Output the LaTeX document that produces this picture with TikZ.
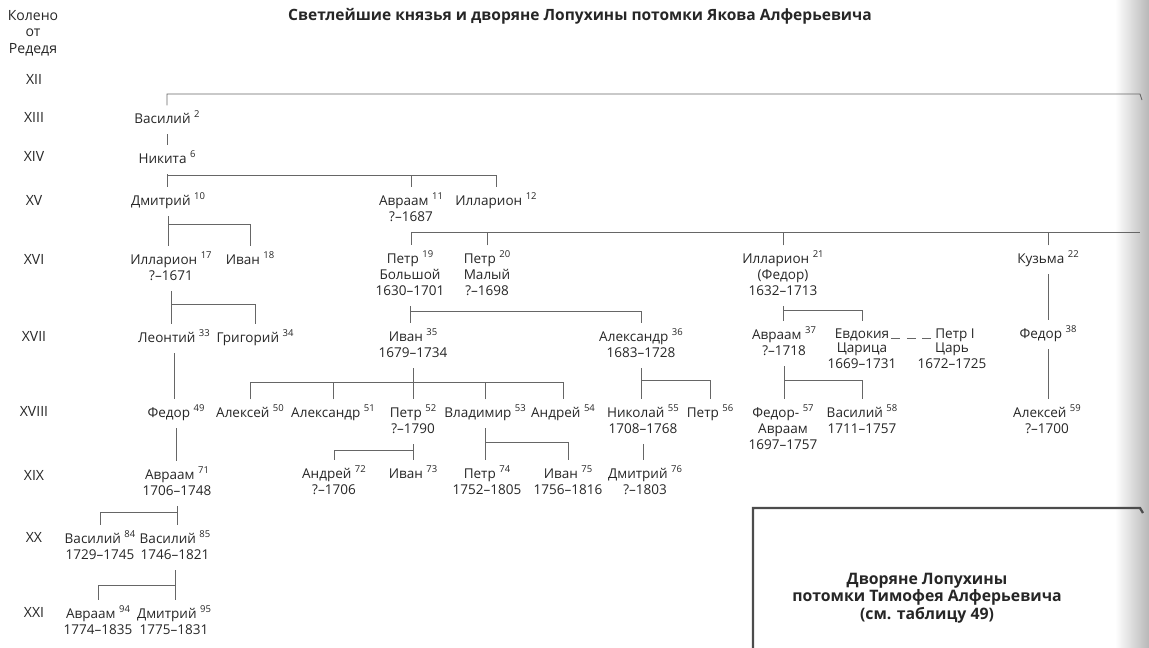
\documentclass[tikz,border=0pt]{standalone}
\usepackage{fontspec}
\setmainfont{Open Sans}
\usepackage{tikz}
\newcommand\idx[1]{\hspace{2pt}\raisebox{3.3pt}{\fontsize{5.4}{6}\selectfont #1}}

\begin{document}
\begin{tikzpicture}[%
  x=0.02cm, y=-0.02cm,
  every node/.style={text=black!85, font=\fontsize{7.7}{9.1}\selectfont},
  person/.style={anchor=north, yshift=6.62pt, inner xsep=1pt, inner ysep=3pt, align=center,
    execute at begin node=\strut, execute at end node=\strut},
  gen/.style={font=\fontsize{8}{9.4}\selectfont, align=center},
  kin/.style={draw=black!60, line width=0.5pt}]
  \useasboundingbox (0,0) rectangle (1149,648);
  \shade[left color=white, right color=black!28] (1115,0) rectangle (1149,648);

  \node (title) at (580,16) {\bfseries\fontsize{8.85}{10}\selectfont Светлейшие князья и дворяне Лопухины потомки Якова Алферьевича};

  \node[gen] (kol) at (33,33) {Колено\\от\\Редедя};
  \node[gen] (g12) at (34,79) {XII};
  \node[gen] (g13) at (34,117) {XIII};
  \node[gen] (g14) at (34,156) {XIV};
  \node[gen] (g15) at (34,200) {XV};
  \node[gen] (g16) at (34,259) {XVI};
  \node[gen] (g17) at (34,336) {XVII};
  \node[gen] (g18) at (34,411) {XVIII};
  \node[gen] (g19) at (34,475) {XIX};
  \node[gen] (g20) at (34,537) {XX};
  \node[gen] (g21) at (34,612) {XXI};

  \node[person] (n2) at (167,117) {Василий\idx{2}};
  \node[person] (n6) at (167,157) {Никита\idx{6}};
  \node[person] (n10) at (168,199) {Дмитрий\idx{10}};
  \node[person] (n11) at (411,199) {Авраам\idx{11}\\?–1687};
  \node[person] (n12) at (496,199) {Илларион\idx{12}};

  \node[person] (n17) at (171,258) {Илларион\idx{17}\\?–1671};
  \node[person] (n18) at (250,258) {Иван\idx{18}};
  \node[person] (n19) at (410,257) {Петр\idx{19}\\Большой\\1630–1701};
  \node[person] (n20) at (487,257) {Петр\idx{20}\\Малый\\?–1698};
  \node[person] (n21) at (783,257) {Илларион\idx{21}\\(Федор)\\1632–1713};
  \node[person] (n22) at (1048,257) {Кузьма\idx{22}};

  \node[person] (n33) at (174,336) {Леонтий\idx{33}};
  \node[person] (n34) at (255,336) {Григорий\idx{34}};
  \node[person] (n35) at (413,335) {Иван\idx{35}\\1679–1734};
  \node[person] (n36) at (641,335) {Александр\idx{36}\\1683–1728};
  \node[person] (n37) at (784,333) {Авраам\idx{37}\\?–1718};
  \node[person] (ne) at (862,333) {Евдокия};
  \node[person] (ned) at (862,349) {Царица\\1669–1731};
  \node[person] (np1) at (955,333) {Петр I};
  \node[person] (np1d) at (952,349) {Царь\\1672–1725};
  \node[person] (n38) at (1048,332) {Федор\idx{38}};

  \node[person] (n49) at (176,411) {Федор\idx{49}};
  \node[person] (n50) at (250,411) {Алексей\idx{50}};
  \node[person] (n51) at (333,411) {Александр\idx{51}};
  \node[person] (n52) at (413,411) {Петр\idx{52}\\?–1790};
  \node[person] (n53) at (485,411) {Владимир\idx{53}};
  \node[person] (n54) at (563,411) {Андрей\idx{54}};
  \node[person] (n55) at (643,411) {Николай\idx{55}\\1708–1768};
  \node[person] (n56) at (710,411) {Петр\idx{56}};
  \node[person] (n57) at (783,411) {Федор-\idx{57}\\Авраам\\1697–1757};
  \node[person] (n58) at (862,411) {Василий\idx{58}\\1711–1757};
  \node[person] (n59) at (1047,411) {Алексей\idx{59}\\?–1700};

  \node[person] (n71) at (177,473) {Авраам\idx{71}\\1706–1748};
  \node[person] (n72) at (334,472) {Андрей\idx{72}\\?–1706};
  \node[person] (n73) at (413,472) {Иван\idx{73}};
  \node[person] (n74) at (487,472) {Петр\idx{74}\\1752–1805};
  \node[person] (n75) at (568,472) {Иван\idx{75}\\1756–1816};
  \node[person] (n76) at (645,472) {Дмитрий\idx{76}\\?–1803};

  \node[person] (n84) at (100,537) {Василий\idx{84}\\1729–1745};
  \node[person] (n85) at (175,537) {Василий\idx{85}\\1746–1821};
  \node[person] (n94) at (98,612) {Авраам\idx{94}\\1774–1835};
  \node[person] (n95) at (174,612) {Дмитрий\idx{95}\\1775–1831};

  \coordinate (topr) at (1140,94);
  \coordinate (rbar) at (1140,232);
  \coordinate (b6) at (0,175);
  \coordinate (b10) at (0,224);
  \coordinate (b17) at (0,304);
  \coordinate (b11) at (0,232);
  \coordinate (b19) at (0,311);
  \coordinate (b21) at (0,310);
  \coordinate (b35) at (0,382);
  \coordinate (b36) at (0,380);
  \coordinate (b37) at (0,380);
  \coordinate (b52) at (0,450);
  \coordinate (b53) at (0,442);
  \coordinate (b71) at (0,512);
  \coordinate (b85) at (0,585);

  \draw[kin] (n2.north) |- (topr) -- ++(2,6);
  \draw[kin] (n2.south) -- (n2.south |- n6.north);
  \draw[kin] (n6.south) -- (n6.south |- n10.north);
  \draw[kin] (n6.south |- b6) -| (n11.north);
  \draw[kin] (n11.north |- b6) -| (n12.north);

  \draw[kin] (n10.south) -- (n10.south |- n17.north);
  \draw[kin] (n10.south |- b10) -| (n18.north);
  \draw[kin] (n17.south) -- (n17.south |- n33.north);
  \draw[kin] (n17.south |- b17) -| (n34.north);
  \draw[kin] (n33.south) -- (n33.south |- n49.north);
  \draw[kin] (n49.south) -- (n49.south |- n71.north);

  \draw[kin] (n11.south) -- (n11.south |- n19.north);
  \draw[kin] (n11.south |- b11) -- (rbar);
  \draw[kin] (n20.north) -- (n20.north |- b11);
  \draw[kin] (n21.north) -- (n21.north |- b11);
  \draw[kin] (n22.north) -- (n22.north |- b11);

  \draw[kin] (n19.south) -- (n19.south |- n35.north);
  \draw[kin] (n19.south |- b19) -| (n36.north);

  \draw[kin] (n35.south) -- (n35.south |- n52.north);
  \draw[kin] (n50.north) |- (n54.north |- b35) -- (n54.north);
  \draw[kin] (n51.north) -- (n51.north |- b35);
  \draw[kin] (n53.north) -- (n53.north |- b35);

  \draw[kin] (n36.south) -- (n36.south |- n55.north);
  \draw[kin] (n36.south |- b36) -| (n56.north);
  \draw[kin] (n55.south) -- (n55.south |- n76.north);

  \draw[kin] (n52.south) -- (n52.south |- n73.north);
  \draw[kin] (n52.south |- b52) -| (n72.north);
  \draw[kin] (n53.south) -- (n53.south |- n74.north);
  \draw[kin] (n53.south |- b53) -| (n75.north);

  \draw[kin] (n21.south) -- (n21.south |- n37.north);
  \draw[kin] (n21.south |- b21) -| (ne.north);
  \draw[kin, dash pattern=on 5pt off 3.85pt] (ne.base east) -- (np1.base west);
  \draw[kin] (n37.south) -- (n37.south |- n57.north);
  \draw[kin] (n37.south |- b37) -| (n58.north);

  \draw[kin] (n22.south) -- (n22.south |- n38.north);
  \draw[kin] (n38.south) -- (n38.south |- n59.north);

  \draw[kin] (n71.south) -- (n71.south |- n85.north);
  \draw[kin] (n71.south |- b71) -| (n84.north);
  \draw[kin] (n85.south) -- (n85.south |- n95.north);
  \draw[kin] (n85.south |- b85) -| (n94.north);

  \draw[draw=black!70, line width=1.3pt] (753,648) |- (1140,508) -- ++(3,5);
  \node[align=center, font=\bfseries\fontsize{9}{10}\selectfont] (nb) at (927,598)
    {Дворяне Лопухины\\потомки Тимофея Алферьевича\\(см. таблицу 49)};
\end{tikzpicture}
\end{document}
